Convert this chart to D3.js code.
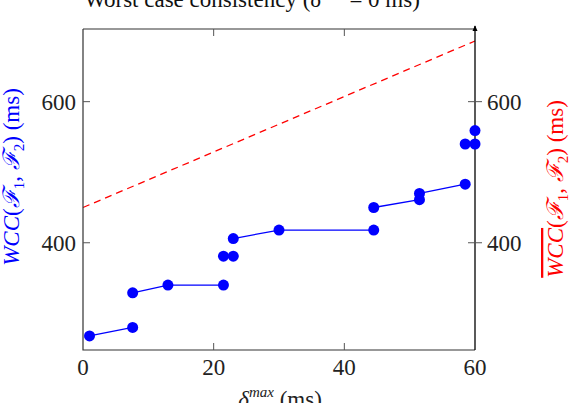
<!DOCTYPE html>
<html>
<head>
<meta charset="utf-8">
<script src="https://cdn.jsdelivr.net/npm/d3@7"></script>
<style>
  body { margin: 0; background: #fff; }
  text { font-family: "Liberation Serif", "DejaVu Serif", serif; }
</style>
</head>
<body>
<script>
// delta max (ms) and worst case consistency (ms); pieces joined by a line
var deltaMax = [1, 7.6, 7.6, 13, 21.5, 21.5, 23, 23, 30, 44.5, 44.5, 51.5, 51.5, 58.5, 58.5, 60, 60];
var wcc      = [268, 280, 329, 340, 340, 381, 381, 406, 418, 418, 450, 461, 470, 483, 540, 540, 559];
var piece    = [0, 0, 1, 1, 1, 2, 3, 4, 4, 4, 5, 5, 6, 6, 7, 8, 9];

// upper bound (dashed red line)
var boundX = [0, 60];
var boundY = [450, 686];

var xTicks = [0, 20, 40, 60];
var yTicks = [400, 600];

var width = 581, height = 403;
var plotLeft = 83, plotRight = 475, plotTop = 29, plotBottom = 350;

var svg = d3.select("body").append("svg")
    .attr("width", width)
    .attr("height", height);

var x = d3.scaleLinear().domain([0, 60]).range([plotLeft, plotRight]);
var y = d3.scaleLinear().domain([248, 703]).range([plotBottom, plotTop]);

var fontSize = 23;

// title (cut at the top of the picture, as in the original)
var title = svg.append("text")
    .attr("x", 252)
    .attr("y", 7)
    .attr("text-anchor", "middle")
    .attr("font-size", fontSize)
    .attr("fill", "#111");
title.append("tspan").text("Worst case consistency (δ");
title.append("tspan").attr("font-size", 15).attr("dy", -10).attr("font-style", "italic").text("min");
title.append("tspan").attr("dy", 10).text(" = 0 ms)");

// dashed bound
svg.append("path")
    .datum(d3.zip(boundX, boundY))
    .attr("fill", "none")
    .attr("stroke", "#ff0000")
    .attr("stroke-width", 1.3)
    .attr("stroke-dasharray", "7,5")
    .attr("d", d3.line().x(d => x(d[0])).y(d => y(d[1])));

// blue pieces
var pts = d3.range(deltaMax.length).map(i => ({ x: deltaMax[i], y: wcc[i], p: piece[i] }));
var groups = d3.groups(pts, d => d.p);

svg.append("g")
    .selectAll("path")
    .data(groups.filter(g => g[1].length > 1))
    .enter()
    .append("path")
    .attr("fill", "none")
    .attr("stroke", "#0000ff")
    .attr("stroke-width", 1.3)
    .attr("d", g => d3.line().x(d => x(d.x)).y(d => y(d.y))(g[1]));

// axes box
svg.append("path")
    .attr("d", `M${plotLeft},${plotTop}V${plotBottom}H${plotRight}M${plotLeft},${plotTop}H${plotRight}`)
    .attr("stroke", "#333")
    .attr("stroke-width", 1.2)
    .attr("fill", "none");

// right axis with arrow
svg.append("defs").append("marker")
    .attr("id", "arrow")
    .attr("viewBox", "0 -5 10 10")
    .attr("refX", 8)
    .attr("refY", 0)
    .attr("markerWidth", 5)
    .attr("markerHeight", 6)
    .attr("orient", "auto")
    .append("path")
    .attr("d", "M0,-4L9,0L0,4")
    .attr("fill", "#000");

svg.append("line")
    .attr("x1", plotRight).attr("x2", plotRight)
    .attr("y1", plotBottom).attr("y2", plotTop - 3)
    .attr("stroke", "#000")
    .attr("stroke-width", 1.3)
    .attr("marker-end", "url(#arrow)");

// ticks
var tickG = svg.append("g").attr("stroke", "#555").attr("stroke-width", 1);
xTicks.slice(1, 3).forEach(function (t) {
    tickG.append("line").attr("x1", x(t)).attr("x2", x(t)).attr("y1", plotBottom).attr("y2", plotBottom - 7);
    tickG.append("line").attr("x1", x(t)).attr("x2", x(t)).attr("y1", plotTop).attr("y2", plotTop + 7);
});
yTicks.forEach(function (t) {
    tickG.append("line").attr("x1", plotLeft).attr("x2", plotLeft + 7).attr("y1", y(t)).attr("y2", y(t));
    tickG.append("line").attr("x1", plotRight - 7).attr("x2", plotRight + 7).attr("y1", y(t)).attr("y2", y(t));
});

// tick labels
svg.append("g")
    .selectAll("text")
    .data(xTicks)
    .enter()
    .append("text")
    .attr("x", d => x(d))
    .attr("y", 375)
    .attr("text-anchor", "middle")
    .attr("font-size", fontSize)
    .attr("fill", "#222")
    .text(d => d);

svg.append("g")
    .selectAll("text")
    .data(yTicks)
    .enter()
    .append("text")
    .attr("x", plotLeft - 7)
    .attr("y", d => y(d) + 8)
    .attr("text-anchor", "end")
    .attr("font-size", fontSize)
    .attr("fill", "#222")
    .text(d => d);

svg.append("g")
    .selectAll("text")
    .data(yTicks)
    .enter()
    .append("text")
    .attr("x", plotRight + 12)
    .attr("y", d => y(d) + 8)
    .attr("text-anchor", "start")
    .attr("font-size", fontSize)
    .attr("fill", "#222")
    .text(d => d);

// markers
svg.append("g")
    .selectAll("circle")
    .data(pts)
    .enter()
    .append("circle")
    .attr("cx", d => x(d.x))
    .attr("cy", d => y(d.y))
    .attr("r", 5.5)
    .attr("fill", "#0000ff");

// axis labels
function wccLabel(sel, over) {
    var w = sel.append("tspan").attr("font-style", "italic").text("WCC");
    if (over) w.attr("text-decoration", "overline");
    sel.append("tspan").text("(");
    sel.append("tspan").attr("font-style", "italic").text("ℱ");
    sel.append("tspan").attr("font-size", 15).attr("dy", 5).text("1");
    sel.append("tspan").attr("dy", -5).text(", ");
    sel.append("tspan").attr("font-style", "italic").text("ℱ");
    sel.append("tspan").attr("font-size", 15).attr("dy", 5).text("2");
    sel.append("tspan").attr("dy", -5).text(") (ms)");
}

var yl = svg.append("text")
    .attr("transform", "translate(19,177) rotate(-90)")
    .attr("text-anchor", "middle")
    .attr("font-size", fontSize)
    .attr("fill", "#0000ff");
wccLabel(yl, false);

var yr = svg.append("text")
    .attr("transform", "translate(563,189) rotate(-90)")
    .attr("text-anchor", "middle")
    .attr("font-size", fontSize)
    .attr("fill", "#ff0000");
wccLabel(yr, true);

var xl = svg.append("text")
    .attr("x", 280)
    .attr("y", 407)
    .attr("text-anchor", "middle")
    .attr("font-size", fontSize)
    .attr("fill", "#222");
xl.append("tspan").attr("font-style", "italic").text("δ");
xl.append("tspan").attr("font-size", 15).attr("dy", -10).attr("font-style", "italic").text("max");
xl.append("tspan").attr("dy", 10).text(" (ms)");
</script>
</body>
</html>
